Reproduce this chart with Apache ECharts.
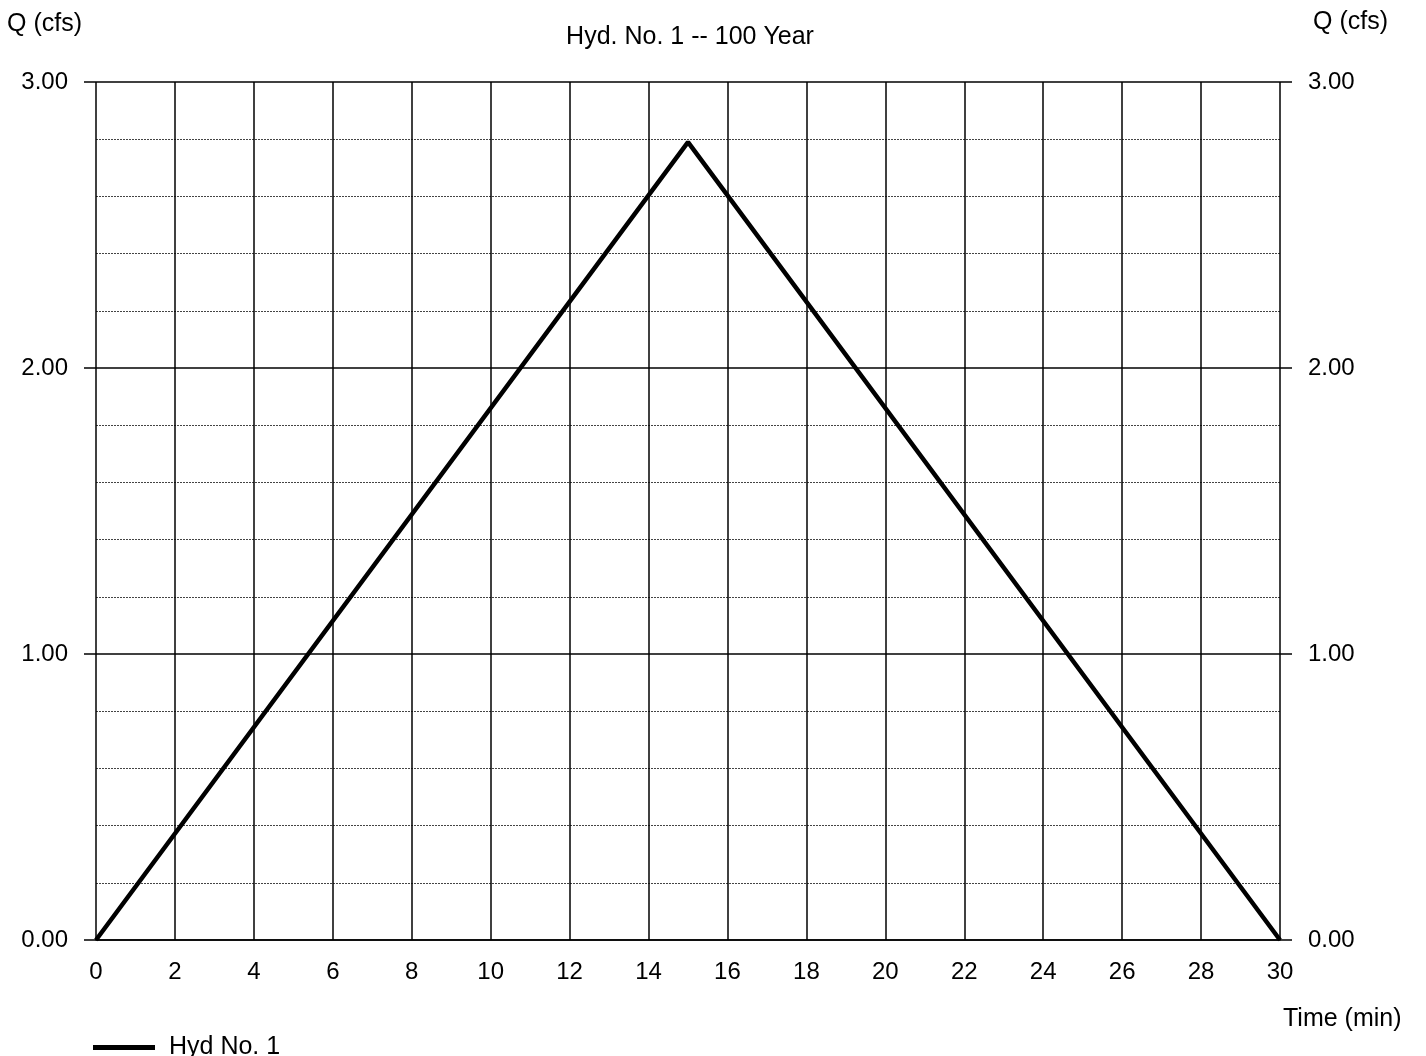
<!DOCTYPE html>
<html><head><meta charset="utf-8">
<script src="https://cdn.jsdelivr.net/npm/echarts@6/dist/echarts.min.js"></script>
<style>html,body{margin:0;padding:0;background:#fff}#c{width:1426px;height:1056px}</style>
</head><body><div id="c"></div>
<script>
const timeMin = [0, 15, 30];
const flowCfs = [0, 2.79, 0];
const seriesName = 'Hyd No. 1';
const titleText = 'Hyd. No. 1 -- 100 Year';
const yAxisLabel = 'Q (cfs)';
const xAxisLabel = 'Time (min)';

const FONT = 'Liberation Sans, Arial, sans-serif';
const chart = echarts.init(document.getElementById('c'));
const yCommon = {
  type: 'value', min: 0, max: 3, interval: 1,
  axisLine: { show: false },
  axisTick: { show: true, length: 12, lineStyle: { color: '#000', width: 1.5 } },
  axisLabel: { color: '#000', fontFamily: FONT, fontSize: 24, margin: 28, formatter: v => v.toFixed(2) },
  splitLine: { show: true, lineStyle: { color: '#000', width: 1.5 } },
  minorTick: { show: false, splitNumber: 5 },
  minorSplitLine: { show: true, lineStyle: { color: '#444', width: 1, type: [2, 1] } }
};
const tStyle = { fontFamily: FONT, fontSize: 25, fontWeight: 'normal', color: '#000' };
chart.setOption({
  animation: false,
  backgroundColor: '#fff',
  title: [
    { text: titleText, left: 685, top: 20, textAlign: 'center', textStyle: tStyle },
    { text: yAxisLabel, left: 2, top: 7, textStyle: tStyle },
    { text: yAxisLabel, left: 1308, top: 5, textStyle: tStyle },
    { text: xAxisLabel, left: 1278, top: 1002, textStyle: tStyle }
  ],
  legend: {
    data: [seriesName], left: 88, top: 1030, itemWidth: 62, itemHeight: 5, itemGap: 10,
    icon: 'rect',
    textStyle: { fontFamily: FONT, fontSize: 25, color: '#000', padding: [0, 0, 0, 9] }
  },
  grid: { left: 96, right: 146, top: 82, bottom: 116 },
  xAxis: {
    type: 'value', min: 0, max: 30, interval: 2,
    axisLine: { show: true, lineStyle: { color: '#000', width: 1.5 } },
    axisTick: { show: false },
    axisLabel: { color: '#000', fontFamily: FONT, fontSize: 24, margin: 20 },
    splitLine: { show: true, lineStyle: { color: '#000', width: 1.5 } }
  },
  yAxis: [
    Object.assign({}, yCommon, { position: 'left' }),
    Object.assign({}, yCommon, { position: 'right', splitLine: { show: false }, minorSplitLine: { show: false } })
  ],
  series: [{
    name: seriesName, type: 'line', yAxisIndex: 0,
    data: timeMin.map((t, i) => [t, flowCfs[i]]),
    symbol: 'none', lineStyle: { color: '#000', width: 4.5 }, itemStyle: { color: '#000' }
  }]
});
</script></body></html>
